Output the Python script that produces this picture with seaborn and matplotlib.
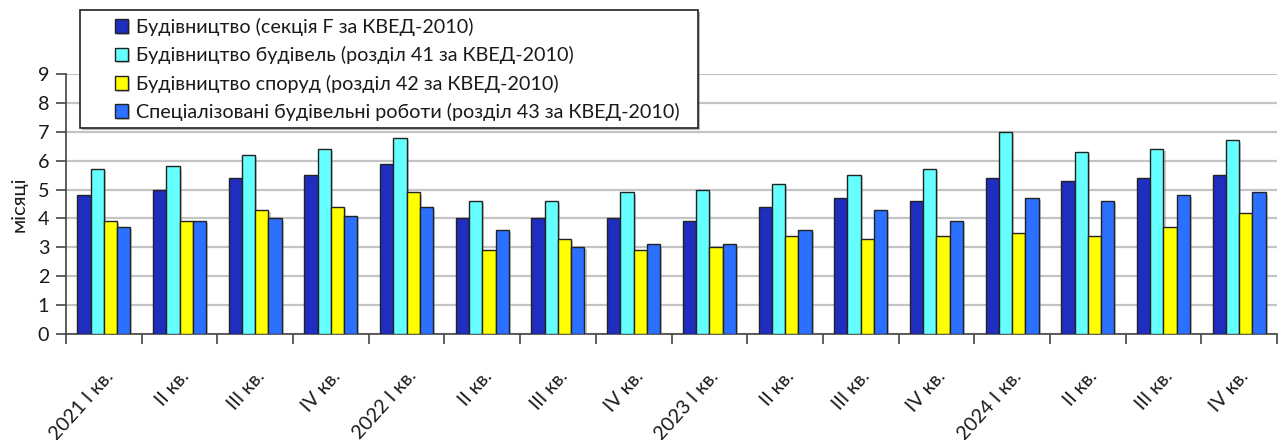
import matplotlib
matplotlib.use("Agg")
import matplotlib.pyplot as plt
import matplotlib.patheffects as pe
import matplotlib.transforms as mtransforms
from matplotlib.patches import Rectangle
from matplotlib.ticker import FixedLocator
import numpy as np
import pandas as pd
import seaborn as sns

# Quarters (unique keys) and the labels printed under each group
periods = [
    "2021 Q1", "2021 Q2", "2021 Q3", "2021 Q4",
    "2022 Q1", "2022 Q2", "2022 Q3", "2022 Q4",
    "2023 Q1", "2023 Q2", "2023 Q3", "2023 Q4",
    "2024 Q1", "2024 Q2", "2024 Q3", "2024 Q4",
]
tick_labels = [
    "2021 I кв.", "II кв.", "III кв.", "IV кв.",
    "2022 I кв.", "II кв.", "III кв.", "IV кв.",
    "2023 I кв.", "II кв.", "III кв.", "IV кв.",
    "2024 I кв.", "II кв.", "III кв.", "IV кв.",
]

series_names = [
    "Будівництво (секція F за КВЕД-2010)",
    "Будівництво будівель (розділ 41 за КВЕД-2010)",
    "Будівництво споруд (розділ 42 за КВЕД-2010)",
    "Спеціалізовані будівельні роботи (розділ 43 за КВЕД-2010)",
]

# Months of secured work, per quarter
section_f = [4.8, 5.0, 5.4, 5.5, 5.9, 4.0, 4.0, 4.0, 3.9, 4.4, 4.7, 4.6, 5.4, 5.3, 5.4, 5.5]
division_41 = [5.7, 5.8, 6.2, 6.4, 6.8, 4.6, 4.6, 4.9, 5.0, 5.2, 5.5, 5.7, 7.0, 6.3, 6.4, 6.7]
division_42 = [3.9, 3.9, 4.3, 4.4, 4.9, 2.9, 3.3, 2.9, 3.0, 3.4, 3.3, 3.4, 3.5, 3.4, 3.7, 4.2]
division_43 = [3.7, 3.9, 4.0, 4.1, 4.4, 3.6, 3.0, 3.1, 3.1, 3.6, 4.3, 3.9, 4.7, 4.6, 4.8, 4.9]

colors = ["#1F2EBE", "#66FFFF", "#FFFF00", "#2B70FF"]

wide = pd.DataFrame({
    "period": periods,
    series_names[0]: section_f,
    series_names[1]: division_41,
    series_names[2]: division_42,
    series_names[3]: division_43,
})
df = wide.melt(id_vars="period", var_name="series", value_name="months")

sns.set_theme(style="white")
plt.rcParams["font.family"] = ["Lato", "DejaVu Sans"]
text_color = "#1a1a1a"
fs = 14.2

W, H = 1278, 440
fig = plt.figure(figsize=(W / 100, H / 100), dpi=100)
ax = fig.add_axes([66 / W, 1 - 334 / H, (1277 - 66) / W, (334 - 74) / H])

sns.barplot(
    data=df, x="period", y="months", hue="series",
    order=periods, hue_order=series_names, palette=colors,
    width=0.7, gap=0, edgecolor="#222222", linewidth=1.0,
    saturation=1, ax=ax, legend=True, zorder=3,
)

shadow = [pe.SimplePatchShadow(offset=(1.5, -1.5), shadow_rgbFace="#888888", alpha=0.45), pe.Normal()]
for bar in ax.patches:
    bar.set_path_effects(shadow)

handles, labels = ax.get_legend_handles_labels()
ax.get_legend().remove()

ax.set_ylim(0, 9)
ax.set_xlim(-0.5, len(periods) - 0.5)
ax.set_yticks(range(10))
ax.yaxis.grid(True, color="#c4c4c4", linewidth=1.6, zorder=0)
ax.xaxis.grid(False)
ax.set_axisbelow(True)

for side in ["top", "right"]:
    ax.spines[side].set_visible(False)
for side in ["left", "bottom"]:
    ax.spines[side].set_color("#444444")
    ax.spines[side].set_linewidth(1.2)

ax.set_xticks(range(len(periods)))
ax.set_xticklabels(tick_labels, rotation=48, ha="right", rotation_mode="anchor",
                   fontsize=fs, color=text_color)
shift = mtransforms.ScaledTranslation(-5 / 100, 0, fig.dpi_scale_trans)
for lbl in ax.get_xticklabels():
    lbl.set_transform(lbl.get_transform() + shift)
ax.xaxis.set_minor_locator(FixedLocator(np.arange(-0.5, len(periods), 1.0)))
ax.tick_params(axis="x", which="major", length=0, pad=24)
ax.tick_params(axis="x", which="minor", length=7, width=1.2, color="#444444", direction="out", bottom=True)
ax.tick_params(axis="y", length=7, width=1.2, color="#444444", direction="out",
               labelsize=fs, labelcolor=text_color, pad=5, left=True)

ax.set_xlabel("")
ax.set_ylabel("місяці", fontsize=14.5, color=text_color, labelpad=7)

# Legend box sitting above the plot area
frame = Rectangle((80 / W, 1 - 128 / H), (698 - 80) / W, (128 - 10) / H,
                  transform=fig.transFigure, facecolor="white", edgecolor="#222222",
                  linewidth=1.2, zorder=4,
                  path_effects=[pe.SimplePatchShadow(offset=(1.5, -1.5), alpha=0.4), pe.Normal()])
fig.patches.append(frame)

leg = fig.legend(handles, labels, loc="upper left",
                 bbox_to_anchor=(115 / W, 1 - 18 / H), bbox_transform=fig.transFigure,
                 frameon=False, borderpad=0, borderaxespad=0,
                 fontsize=fs, handlelength=0.68, handleheight=0.7,
                 handletextpad=0.4, labelspacing=0.52)
for t in leg.get_texts():
    t.set_color(text_color)
leg.set_zorder(5)

fig.savefig("out.png", dpi=100, facecolor="white")
